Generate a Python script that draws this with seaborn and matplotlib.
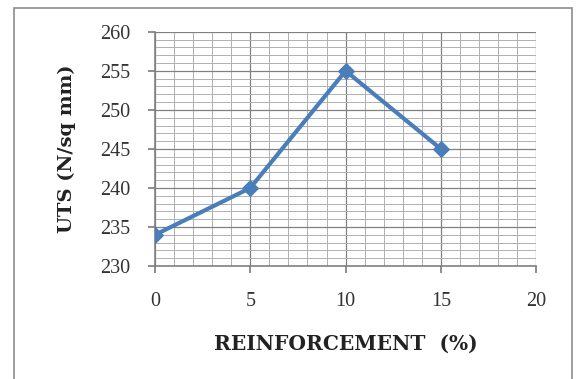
import matplotlib
matplotlib.use("Agg")
import matplotlib.pyplot as plt
import seaborn as sns
import pandas as pd
from matplotlib.patches import Rectangle
from matplotlib.ticker import MultipleLocator

reinforcement = [0, 5, 10, 15]
uts = [234, 240, 255, 245]
x_ticks = [0, 5, 10, 15, 20]
y_ticks = [230, 235, 240, 245, 250, 255, 260]

sns.set_theme(style="white")
plt.rcParams['font.family'] = ['Liberation Serif', 'DejaVu Serif']

df = pd.DataFrame({"reinf": reinforcement, "uts": uts})

fig = plt.figure(figsize=(5.76, 3.79), dpi=100)
ax = fig.add_axes([0.269, 0.298, 0.662, 0.618])

ax.xaxis.set_minor_locator(MultipleLocator(1))
ax.yaxis.set_minor_locator(MultipleLocator(1))
ax.grid(which="major", color="#808080", linewidth=0.9)
ax.grid(which="minor", color="#b0b0b0", linewidth=0.7)
ax.set_axisbelow(True)

sns.lineplot(data=df, x="reinf", y="uts", ax=ax, color="#4a7ebb", linewidth=3,
             marker="D", markersize=8, markeredgecolor="#4a7ebb", zorder=3)

ax.set_xlim(0, 20)
ax.set_ylim(230, 260)
ax.set_xticks(x_ticks)
ax.set_yticks(y_ticks)
ax.tick_params(axis="both", which="major", labelsize=14.5, length=5, color="#808080",
               labelcolor="#333333", direction="out", bottom=True, left=True)
ax.tick_params(axis="x", pad=14)
ax.tick_params(axis="y", pad=13)
for s in ["top", "right"]:
    ax.spines[s].set_visible(False)
for s in ["left", "bottom"]:
    ax.spines[s].set_color("#808080")
    ax.spines[s].set_linewidth(1.2)

ax.set_xlabel("REINFORCEMENT  (%)", fontsize=14.5, fontweight="bold", labelpad=16,
              color="#222222", family=["DejaVu Serif"])
ax.set_ylabel("UTS (N/sq mm)", fontsize=14, fontweight="bold", labelpad=17,
              color="#222222", family=["DejaVu Serif"])

fig.patches.append(Rectangle((14/576, -0.05), (572-14)/576, 1.05 - 8/379,
                             transform=fig.transFigure, fill=False,
                             edgecolor="#8c8c8c", linewidth=1.2))

fig.savefig("out.png", dpi=100)
